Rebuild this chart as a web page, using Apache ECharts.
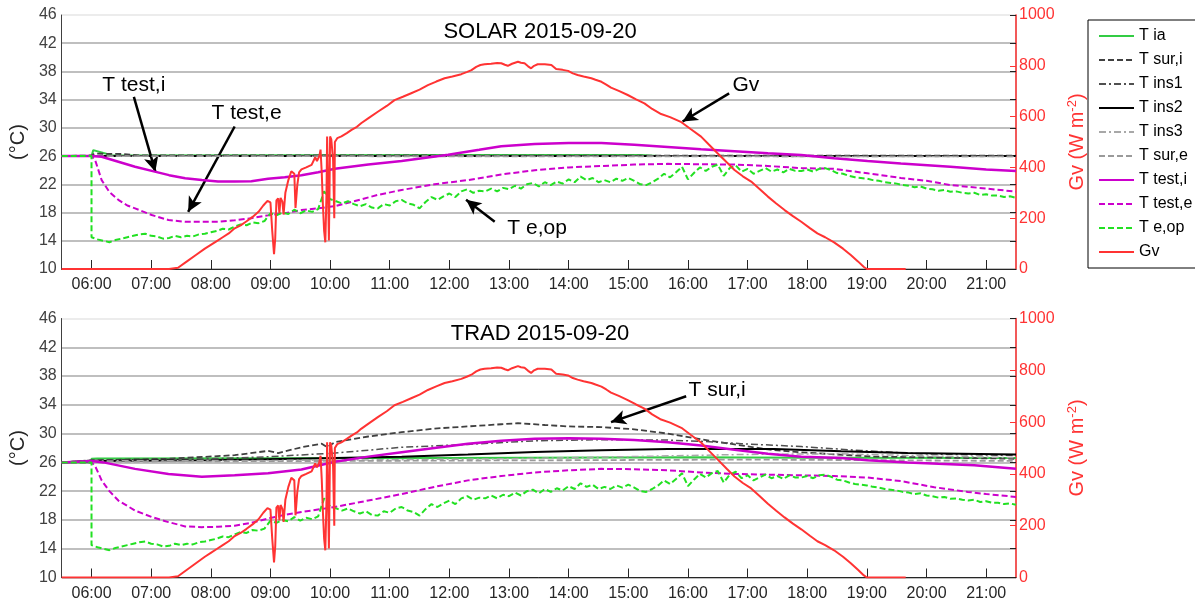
<!DOCTYPE html>
<html><head><meta charset="utf-8">
<script src="https://cdn.jsdelivr.net/npm/echarts@6/dist/echarts.min.js"></script>
<style>html,body{margin:0;padding:0;background:#fff}#c{width:1195px;height:603px}</style>
</head><body><div id="c"></div>
<script>
// ---------- tick labels ----------
const hourTicks = [6,7,8,9,10,11,12,13,14,15,16,17,18,19,20,21];
const tempTicks = [10,14,18,22,26,30,34,38,42,46];
const seriesNames = ['T ia','T sur,i','T ins1','T ins2','T ins3','T sur,e','T test,i','T test,e','T e,op','Gv'];
const chartTitles = ['SOLAR 2015-09-20','TRAD 2015-09-20'];

// ---------- shared measurements (time in hours, value) ----------
const gv = [[5.5,0],[7.3,0],[7.45,5],[7.6,30],[7.75,55],[7.9,80],[8.0,95],[8.1,110],[8.2,125],[8.3,140],[8.4,160],[8.5,172],[8.6,188],[8.7,205],[8.8,225],[8.88,250],[8.95,268],[9.0,262],[9.03,150],[9.06,58],[9.08,120],[9.1,270],[9.13,278],[9.15,220],[9.17,280],[9.2,265],[9.22,215],[9.25,300],[9.3,350],[9.35,385],[9.4,375],[9.42,240],[9.45,330],[9.48,380],[9.52,392],[9.6,400],[9.69,410],[9.75,440],[9.78,425],[9.82,445],[9.84,470],[9.86,380],[9.88,250],[9.9,150],[9.92,105],[9.94,300],[9.95,522],[9.96,400],[9.98,112],[9.99,300],[10.0,522],[10.02,510],[10.05,430],[10.07,200],[10.08,500],[10.12,515],[10.19,522],[10.28,535],[10.36,548],[10.45,560],[10.52,574],[10.65,595],[10.8,619],[10.95,642],[11.08,665],[11.22,678],[11.36,692],[11.5,706],[11.64,724],[11.78,738],[11.92,751],[12.05,758],[12.2,767],[12.3,776],[12.37,783],[12.45,796],[12.52,803],[12.59,806],[12.7,808],[12.8,811],[12.87,810],[12.93,804],[12.98,800],[13.05,808],[13.15,816],[13.2,812],[13.26,810],[13.32,798],[13.37,790],[13.42,800],[13.48,806],[13.6,806],[13.71,803],[13.79,787],[13.9,784],[13.99,780],[14.07,770],[14.15,764],[14.25,758],[14.38,751],[14.45,745],[14.55,737],[14.63,726],[14.71,714],[14.85,700],[14.99,685],[15.13,668],[15.27,652],[15.4,630],[15.55,610],[15.7,598],[15.89,578],[16.05,550],[16.22,521],[16.35,490],[16.5,455],[16.65,420],[16.78,390],[16.92,365],[17.06,344],[17.2,315],[17.34,285],[17.48,258],[17.62,232],[17.76,208],[17.9,186],[18.05,160],[18.17,140],[18.3,125],[18.45,105],[18.6,80],[18.73,55],[18.85,30],[18.95,8],[19.0,0],[19.65,0]];

const teop = [[5.5,26],[6.0,26],[6.0,14.5],[6.1,14.2],[6.2,14.0],[6.3,13.8],[6.4,14.1],[6.5,14.3],[6.6,14.5],[6.7,14.7],[6.8,14.9],[6.9,15.0],[7.0,14.7],[7.1,14.6],[7.2,14.3],[7.3,14.4],[7.4,14.7],[7.5,14.5],[7.6,14.7],[7.7,14.6],[7.8,14.9],[7.9,15.0],[8.0,15.2],[8.1,15.4],[8.2,15.7],[8.3,15.6],[8.4,16.0],[8.5,16.3],[8.6,16.2],[8.7,16.6],[8.8,16.5],[8.9,16.8],[9.0,17.9],[9.1,17.6],[9.2,18.0],[9.3,17.8],[9.4,18.4],[9.5,17.9],[9.6,18.3],[9.7,18.1],[9.8,18.5],[9.9,21.0],[10.0,19.9],[10.1,19.6],[10.2,19.3],[10.3,19.6],[10.4,19.2],[10.5,18.9],[10.6,19.2],[10.7,18.7],[10.8,18.6],[10.9,19.2],[11.0,19.0],[11.1,19.6],[11.2,19.8],[11.3,19.3],[11.4,19.1],[11.5,18.6],[11.6,19.5],[11.7,20.2],[11.8,19.8],[11.9,20.3],[12.0,20.7],[12.1,20.2],[12.2,21.0],[12.3,21.3],[12.4,20.8],[12.5,21.1],[12.6,21.0],[12.7,21.4],[12.8,21.0],[12.9,21.5],[13.0,21.3],[13.1,21.8],[13.2,21.4],[13.3,22.0],[13.4,22.2],[13.5,21.7],[13.6,22.3],[13.7,21.9],[13.8,22.4],[13.9,22.1],[14.0,22.7],[14.1,22.3],[14.2,23.1],[14.3,22.6],[14.4,22.9],[14.5,22.3],[14.6,22.6],[14.7,22.3],[14.8,22.8],[14.9,22.5],[15.0,22.9],[15.1,22.5],[15.2,22.0],[15.3,21.9],[15.4,22.3],[15.5,22.8],[15.6,23.5],[15.7,23.0],[15.8,23.7],[15.9,24.5],[16.0,22.7],[16.1,23.6],[16.2,24.4],[16.3,23.9],[16.4,24.5],[16.5,24.8],[16.6,23.2],[16.7,24.3],[16.8,24.7],[16.9,23.8],[17.0,24.2],[17.1,23.5],[17.2,23.9],[17.3,24.3],[17.4,23.8],[17.5,24.1],[17.6,23.7],[17.7,24.2],[17.8,23.9],[17.9,23.9],[18.0,24.1],[18.1,23.8],[18.2,24.2],[18.3,24.3],[18.4,24.0],[18.5,23.6],[18.6,23.5],[18.7,23.2],[18.8,23.0],[18.9,22.9],[19.0,22.8],[19.1,22.6],[19.2,22.5],[19.3,22.3],[19.4,22.2],[19.5,22.1],[19.6,21.9],[19.7,21.8],[19.8,21.6],[19.9,21.7],[20.0,21.4],[20.1,21.3],[20.2,21.1],[20.3,21.2],[20.4,20.95],[20.5,21.0],[20.6,20.8],[20.7,20.7],[20.8,20.8],[20.9,20.5],[21.0,20.6],[21.1,20.4],[21.2,20.4],[21.3,20.2],[21.4,20.3],[21.5,20.1]];

// ---------- SOLAR ----------
const solarTia   = [[5.5,26],[6.0,26],[6.03,26.85],[6.2,26.45],[6.35,26.1],[12.0,26.15],[15.2,26.15],[15.5,26.0],[21.5,26.0]];
const solarTsurI = [[5.5,26],[6.0,26.1],[6.05,26.35],[6.5,26.3],[6.8,26.1],[21.5,26.05]];
const solarTins1 = [[5.5,26],[6.0,26.05],[21.5,26.05]];
const solarTins2 = [[5.5,26],[21.5,26.0]];
const solarTins3 = [[5.5,26],[21.5,25.95]];
const solarTsurE = [[5.5,26],[21.5,25.95]];
const solarTtestI = [[5.5,26],[6.0,26],[6.17,25.9],[6.45,25.2],[6.73,24.5],[7.06,23.8],[7.3,23.3],[7.57,22.85],[7.85,22.6],[8.12,22.4],[8.4,22.4],[8.68,22.45],[8.96,22.8],[9.24,23.0],[9.52,23.3],[9.8,23.7],[10.08,24.2],[10.64,24.8],[11.2,25.3],[11.98,26.2],[12.5,26.9],[12.87,27.4],[13.43,27.7],[14.0,27.85],[14.55,27.85],[15.1,27.6],[15.66,27.3],[16.22,26.96],[16.78,26.7],[17.34,26.4],[17.9,26.15],[18.45,25.7],[19.01,25.3],[19.57,24.95],[20.4,24.5],[21.0,24.1],[21.5,23.9]];
const solarTtestE = [[5.5,26],[6.0,26],[6.06,25.45],[6.17,22.6],[6.3,20.9],[6.45,19.8],[6.6,19.0],[6.73,18.6],[7.01,17.65],[7.29,16.94],[7.57,16.7],[7.85,16.7],[8.12,16.7],[8.4,16.9],[8.68,17.2],[8.96,17.6],[9.24,17.9],[9.52,18.36],[9.8,18.6],[10.08,18.9],[10.4,19.6],[10.8,20.5],[11.2,21.2],[11.75,22.0],[12.31,22.6],[12.87,23.4],[13.43,24.0],[14.0,24.4],[14.55,24.6],[15.1,24.8],[15.66,24.9],[16.22,24.85],[16.78,24.8],[17.34,24.6],[17.9,24.3],[18.45,24.2],[19.01,23.56],[19.57,22.9],[20.0,22.5],[20.4,21.9],[21.0,21.4],[21.5,20.96]];

// ---------- TRAD ----------
const tradTia   = [[5.5,26],[6.0,26],[6.0,26.5],[6.1,26.55],[12.0,26.6],[16.0,26.7],[18.0,26.65],[21.5,26.6]];
const tradTsurI = [[5.5,26],[6.0,26.3],[7.29,26.5],[8.4,27.0],[8.96,27.6],[9.13,27.3],[9.52,28.1],[9.86,28.6],[9.95,28.1],[10.08,28.8],[10.64,29.6],[11.2,30.2],[11.75,30.7],[12.31,31.0],[12.87,31.3],[13.15,31.45],[13.6,31.2],[13.99,31.0],[14.55,30.9],[15.1,30.6],[15.66,30.0],[16.22,29.2],[16.78,28.5],[17.34,27.8],[17.9,27.4],[18.5,27.1],[19.12,26.8],[20.0,26.7],[21.5,26.5]];
const tradTins1 = [[5.5,26],[6.0,26.3],[8.0,26.5],[9.0,26.8],[10.08,27.3],[11.2,28.1],[12.31,28.5],[13.43,29.0],[14.55,29.15],[15.66,29.1],[16.3,28.9],[16.89,28.6],[17.9,28.2],[18.9,27.65],[19.9,27.2],[21.5,26.95]];
const tradTins2 = [[5.5,26],[6.0,26.2],[8.0,26.3],[10.08,26.6],[11.2,26.8],[12.31,27.1],[13.43,27.45],[14.55,27.7],[15.66,27.85],[16.78,27.85],[17.45,27.85],[18.57,27.55],[19.68,27.3],[21.5,27.1]];
const tradTins3 = [[5.5,26],[6.0,26.2],[10.0,26.3],[13.0,26.5],[15.0,26.8],[16.9,27.1],[18.5,27.2],[20.0,26.9],[21.5,26.65]];
const tradTsurE = [[5.5,26],[6.0,26.1],[14.0,26.3],[17.0,26.4],[21.5,26.2]];
const tradTtestI = [[5.5,26],[6.0,26.2],[6.2,26.0],[6.73,25.1],[7.29,24.4],[7.85,24.0],[8.4,24.2],[8.96,24.5],[9.52,25.0],[10.08,26.1],[10.64,26.8],[11.2,27.4],[11.75,28.0],[12.31,28.6],[12.87,29.0],[13.43,29.3],[14.0,29.35],[14.55,29.3],[15.1,29.1],[15.66,28.8],[16.22,28.35],[16.78,27.75],[17.34,27.2],[17.9,26.8],[18.57,26.6],[19.01,26.3],[19.68,26.0],[20.2,25.8],[20.8,25.6],[21.5,25.1]];
const tradTtestE = [[5.5,26],[6.0,26],[6.06,25.5],[6.17,23.5],[6.3,22.0],[6.45,20.7],[6.73,19.3],[7.01,18.4],[7.29,17.7],[7.57,17.1],[7.85,17.0],[8.12,17.05],[8.4,17.2],[8.68,17.6],[8.96,18.2],[9.24,18.7],[9.52,19.1],[10.08,19.8],[10.64,20.7],[11.2,21.6],[11.75,22.6],[12.31,23.5],[12.87,24.1],[13.43,24.6],[14.0,24.9],[14.55,25.1],[15.1,25.05],[15.66,24.9],[16.22,24.6],[16.78,24.4],[17.34,24.3],[17.9,24.2],[18.45,24.1],[19.01,23.9],[19.57,23.4],[20.13,22.55],[20.69,21.9],[21.0,21.6],[21.5,21.2]];

// ---------- annotations (data units: hour, °C) ----------
const annotSolar = [
  {text:'T test,i', at:[6.71,36.1], from:[6.71,34.4], to:[7.07,23.8]},
  {text:'T test,e', at:[8.6,32.1], from:[8.4,30.2], to:[7.62,18.1]},
  {text:'Gv', at:[16.97,36.1], from:[16.69,34.9], to:[15.91,30.9]},
  {text:'T e,op', at:[13.47,15.8], from:[12.76,16.7], to:[12.28,19.8]}
];
const annotTrad = [
  {text:'T sur,i', at:[16.49,36.1], from:[15.97,35.2], to:[14.71,31.6]}
];

// ---------- styles ----------
const FONT = 'Liberation Sans, Arial, sans-serif';
const styles = {
  'T ia':     {color:'#33cc44', type:'solid', width:2},
  'T sur,i':  {color:'#404040', type:[6,3], width:1.8},
  'T ins1':   {color:'#505050', type:[7,3,2,3], width:1.5},
  'T ins2':   {color:'#000000', type:'solid', width:2},
  'T ins3':   {color:'#a8a8a8', type:[7,3,2,3], width:1.5},
  'T sur,e':  {color:'#9a9a9a', type:[6,3], width:1.8},
  'T test,i': {color:'#cc00cc', type:'solid', width:2.5},
  'T test,e': {color:'#cc00cc', type:[6,3], width:2},
  'T e,op':   {color:'#22e022', type:[6,3], width:2},
  'Gv':       {color:'#ff3333', type:'solid', width:2}
};

const solarData = [solarTia, solarTsurI, solarTins1, solarTins2, solarTins3, solarTsurE, solarTtestI, solarTtestE, teop, gv];
const tradData  = [tradTia, tradTsurI, tradTins1, tradTins2, tradTins3, tradTsurE, tradTtestI, tradTtestE, teop, gv];

function annotParts(list){
  return {
    markLine: {
      silent:true, animation:false, symbol:['none','arrow'], symbolSize:[11,15],
      lineStyle:{color:'#000', width:2.5, type:'solid'}, label:{show:false},
      data: list.map(a => [{coord:a.from},{coord:a.to}])
    },
    markPoint: {
      silent:true, animation:false, symbol:'circle', symbolSize:1, itemStyle:{color:'rgba(0,0,0,0)'},
      label:{show:true, position:'inside', color:'#000', fontSize:21, fontFamily:FONT, formatter: p => p.name},
      data: list.map(a => ({name:a.text, coord:a.at}))
    }
  };
}

const series = [];
[solarData, tradData].forEach((set, g) => {
  set.forEach((d, i) => {
    const name = seriesNames[i];
    const st = styles[name];
    const s = {
      name, type:'line', data:d, xAxisIndex:g, yAxisIndex: name==='Gv' ? g*3+1 : g*3,
      showSymbol:false, symbol:'none', animation:false, clip:true,
      lineStyle:{color:st.color, type:st.type, width:st.width}, itemStyle:{color:st.color},
      z: 2 + i
    };
    if (i === 0) Object.assign(s, annotParts(g===0 ? annotSolar : annotTrad));
    series.push(s);
  });
});

const grids = [
  {left:60, right:179, top:15, height:254},
  {left:60, right:179, top:318.5, height:259}
];
const pad = h => (h<10?'0':'') + h + ':00';

const xAxes = grids.map((_, g) => ({
  type:'value', gridIndex:g, min:5.5, max:21.5,
  axisLine:{show:true, onZero:false, lineStyle:{color:'#262626', width:1}},
  axisTick:{show:true, inside:true, length:9, customValues:hourTicks, lineStyle:{color:'#262626', width:1}},
  axisLabel:{show:true, customValues:hourTicks, formatter:v=>pad(Math.round(v)), fontSize:16, color:'#262626', fontFamily:FONT, margin:8},
  splitLine:{show:false}
}));

const yAxes = [];
grids.forEach((_, g) => {
  yAxes.push({
    type:'value', gridIndex:g, min:10, max:46, interval:4, position:'left',
    name:'(°C)', nameLocation:'middle', nameRotate:90, nameGap:23,
    nameTextStyle:{fontSize:20, color:'#262626', fontFamily:FONT},
    axisLine:{show:true, lineStyle:{color:'#404040', width:1}},
    axisTick:{show:false},
    axisLabel:{fontSize:16, color:'#404040', fontFamily:FONT, margin:5, formatter:v=>String(v)},
    splitLine:{show:true, lineStyle:{color:['#aaaaaa','#aaaaaa','#aaaaaa','#aaaaaa','#aaaaaa','#aaaaaa','#aaaaaa','#aaaaaa','#aaaaaa','#e6e6e6'], width:1.5}}
  });
  yAxes.push({
    type:'value', gridIndex:g, min:0, max:1000, interval:200, position:'right',
    name:'{a|Gv (W m}{s|-2}{a|)}', nameLocation:'middle', nameRotate:90, nameGap:39,
    nameTextStyle:{color:'#ff3333', fontFamily:FONT, rich:{
      a:{fontSize:20, color:'#ff3333', fontFamily:FONT, lineHeight:24},
      s:{fontSize:13, color:'#ff3333', fontFamily:FONT, verticalAlign:'top', lineHeight:24, padding:[0,0,8,0]}
    }},
    axisLine:{show:true, lineStyle:{color:'#ee2222', width:1.5}},
    axisTick:{show:true, inside:true, length:6, lineStyle:{color:'#ff3333', width:1}},
    axisLabel:{fontSize:16, color:'#ff3333', fontFamily:FONT, margin:3, formatter:v=>String(v)},
    splitLine:{show:false}
  });
  yAxes.push({
    type:'value', gridIndex:g, min:10, max:46, interval:4, position:'right',
    axisLine:{show:false}, axisLabel:{show:false}, splitLine:{show:false},
    axisTick:{show:true, inside:true, length:6, lineStyle:{color:'#222', width:1}}
  });
});

const chart = echarts.init(document.getElementById('c'), null, {renderer:'canvas'});
chart.setOption({
  animation:false,
  backgroundColor:'#ffffff',
  grid: grids,
  xAxis: xAxes,
  yAxis: yAxes,
  legend: {
    data: seriesNames, orient:'vertical', left:1088, top:20,
    borderColor:'#000', borderWidth:1, padding:[8,80,8,10],
    itemWidth:35, itemHeight:14, itemGap:8,
    itemStyle:{opacity:0},
    textStyle:{fontSize:16, color:'#000', fontFamily:FONT}, selectedMode:false
  },
  graphic: chartTitles.map((t, g) => ({
    type:'text', x:540, y: g===0 ? 32 : 334, z:100,
    style:{text:t, align:'center', verticalAlign:'middle', fontSize:22, fontFamily:FONT, fill:'#000'}
  })),
  series
});
</script>
</body></html>
